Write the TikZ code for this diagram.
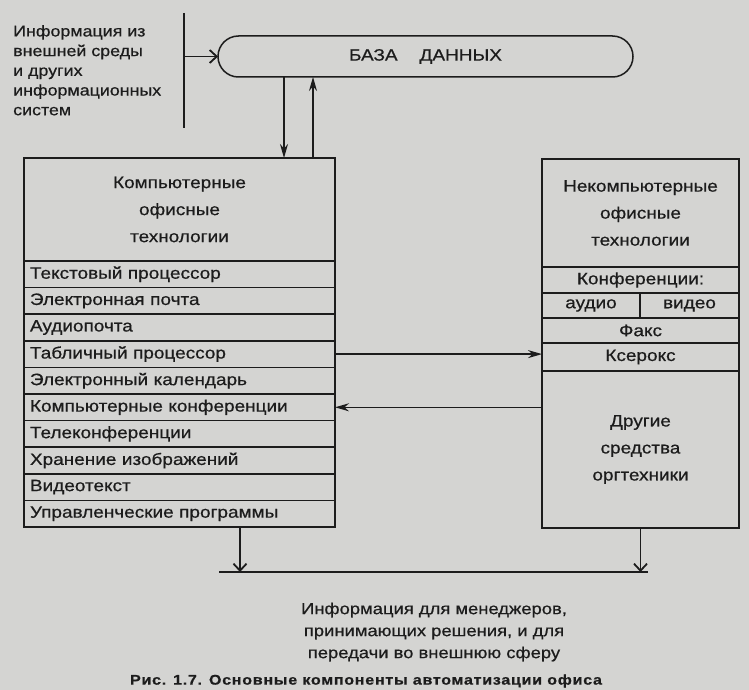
\documentclass[tikz,border=0pt]{standalone}
\usepackage{fontspec}
\setmainfont{Liberation Sans}[FakeStretch=1.15,FakeBold=0.6]
\usepackage{tikz}
\usetikzlibrary{positioning,shapes.misc,arrows.meta}
\definecolor{paper}{RGB}{212,212,210}
\definecolor{ink}{RGB}{28,28,28}

\begin{document}
\begin{tikzpicture}[x=1pt,y=-1pt,text=ink,
    box/.style={draw=ink,line width=1.5pt,inner sep=0pt,outer sep=0pt},
    head/.style={box,align=center,font=\fontsize{16.5}{27}\selectfont},
    row/.style={box,minimum width=311pt,minimum height=26.6pt,text width=299pt,align=left,font=\fontsize{16.5}{20}\selectfont},
    cell/.style={box,minimum width=197pt,align=center,font=\fontsize{16.5}{20}\selectfont},
    arr/.style={draw=ink,line width=1.5pt,-{Stealth[length=14pt,width=8pt]}},
    openarr/.style={draw=ink,line width=1.5pt,-{Straight Barb[length=7pt,width=13pt,line width=1.8pt]}}]
  \fill[paper] (0,0) rectangle (749,690);
  \useasboundingbox (0,0) rectangle (749,690);

  % database and outside information
  \node[box,rounded rectangle,minimum width=415pt,minimum height=41pt,font=\fontsize{16.5}{20}\selectfont](baza) at (425.5,56.5){БАЗА\hspace{22pt}ДАННЫХ\hspace{30pt}};
  \node[anchor=north west,inner sep=0pt,align=left,font=\fontsize{15.5}{19.7}\selectfont](info) at (13,25){Информация из\\внешней среды\\и других\\информационных\\систем};
  \coordinate (bartop) at (184,13);
  \coordinate (barbot) at (184,128);
  \draw[ink,line width=2.5pt] (bartop) -- (barbot);
  \draw[openarr] (bartop |- baza.west) -- (baza.west);

  % computer technologies
  \node[head,minimum width=311pt,minimum height=103pt,anchor=north west](komp) at (24,158){Компьютерные\\офисные\\технологии};
  \node[row,below=0pt of komp](tekst){Текстовый процессор};
  \node[row,below=0pt of tekst](pochta){Электронная почта};
  \node[row,below=0pt of pochta](audiopochta){Аудиопочта};
  \node[row,below=0pt of audiopochta](tabl){Табличный процессор};
  \node[row,below=0pt of tabl](kalendar){Электронный календарь};
  \node[row,below=0pt of kalendar](kkonf){Компьютерные конференции};
  \node[row,below=0pt of kkonf](telekonf){Телеконференции};
  \node[row,below=0pt of telekonf](hranenie){Хранение изображений};
  \node[row,below=0pt of hranenie](videotekst){Видеотекст};
  \node[row,below=0pt of videotekst](upr){Управленческие программы};

  % non-computer technologies
  \node[head,minimum width=197pt,minimum height=108pt,anchor=north west](nekomp) at (542,159){Некомпьютерные\\офисные\\технологии};
  \node[cell,minimum height=26pt,below=0pt of nekomp](konf){Конференции:};
  \node[cell,minimum width=98pt,minimum height=25pt,below right=0pt of konf.south west](audio){аудио};
  \node[cell,minimum width=99pt,minimum height=25pt,right=0pt of audio](video){видео};
  \node[cell,minimum height=25pt,below right=0pt of audio.south west](faks){Факс};
  \node[cell,minimum height=28pt,below=0pt of faks](kserox){Ксерокс};
  \node[head,minimum width=197pt,minimum height=157pt,below=0pt of kserox](drugie){Другие\\средства\\оргтехники};

  % links
  \coordinate (down) at (284,0);
  \coordinate (up) at (313,0);
  \draw[arr] (baza.south -| down) -- (komp.north -| down);
  \draw[arr] (komp.north -| up) -- (baza.south -| up);
  \draw[arr] (tabl.east) -- (tabl.east -| kserox.west);
  \draw[arr] (kkonf.east -| drugie.west) -- (kkonf.east);

  % output
  \coordinate (outL) at (219,572);
  \coordinate (outR) at (648,572);
  \coordinate (downL) at (240,572);
  \draw[ink,line width=2.5pt] (outL) -- (outR);
  \draw[openarr] (upr.south -| downL) -- (downL);
  \draw[openarr] (drugie.south) -- (drugie.south |- outR);
  \node[align=center,font=\fontsize{16}{22}\selectfont](vyhod) at (434,632){Информация для менеджеров,\\принимающих решения, и для\\передачи во внешнюю сферу};
  \node[font=\fontsize{14}{16}\selectfont\bfseries\addfontfeature{LetterSpace=5}](podpis) at (366,681){Рис. 1.7. Основные компоненты автоматизации офиса};
\end{tikzpicture}
\end{document}
